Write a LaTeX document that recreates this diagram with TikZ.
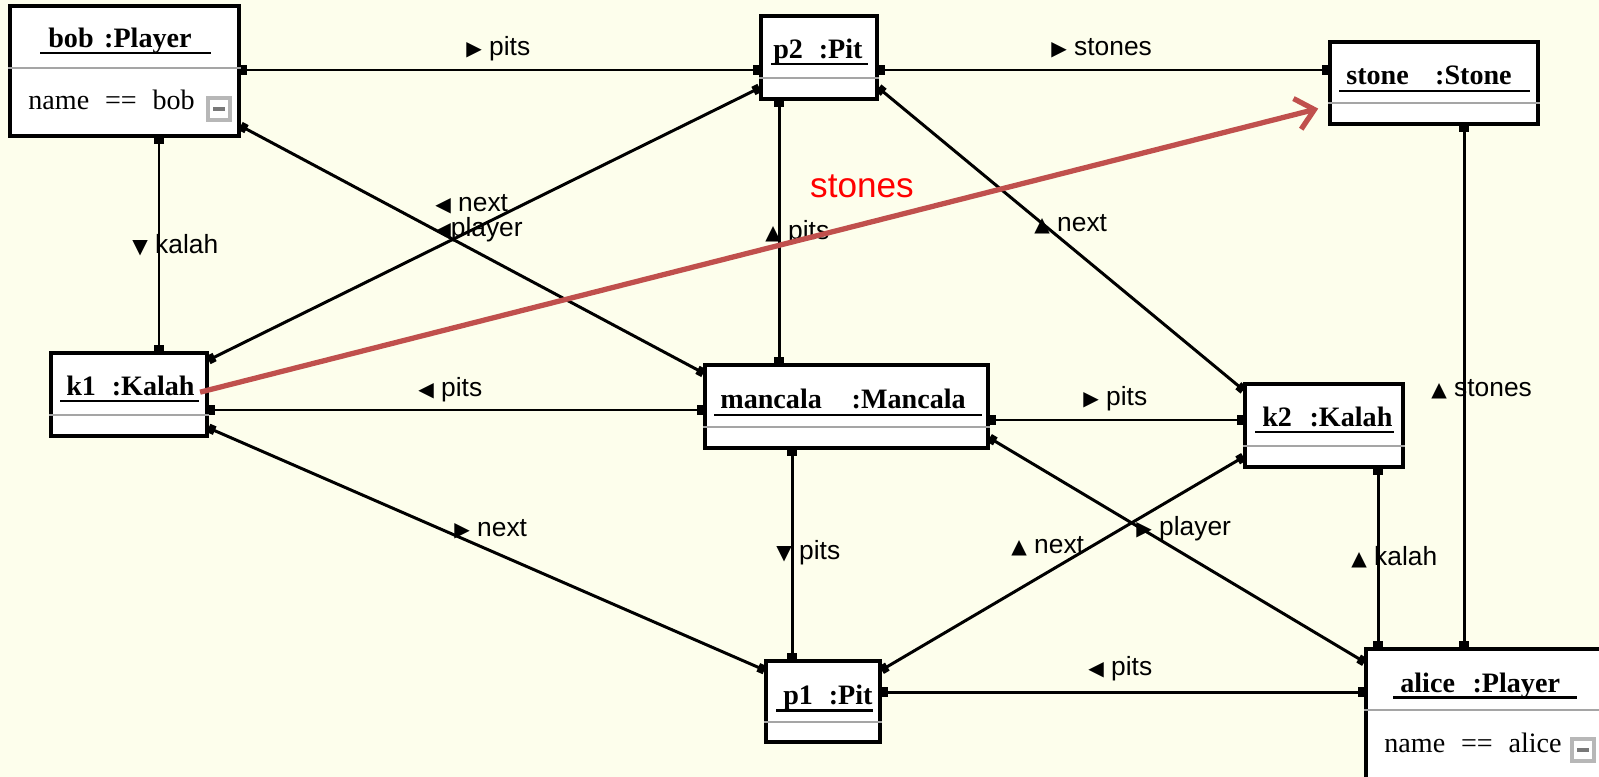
\documentclass[tikz,border=0pt]{standalone}
\usepackage{fontspec}
\setmainfont{Liberation Serif}
\setsansfont{Liberation Sans}
\newfontfamily\trifont{DejaVu Sans}
\usetikzlibrary{arrows.meta}
\usetikzlibrary{fit}
\definecolor{bgivory}{RGB}{253,254,236}
\definecolor{sepgray}{RGB}{165,165,165}
\definecolor{linkred}{RGB}{192,80,77}
\newcommand{\tri}[1]{{\trifont\fontsize{11.5}{12}\selectfont #1}}

\begin{document}
\begin{tikzpicture}[x=0.02cm, y=-0.02cm,
    obj/.style={draw, line width=1.8pt, fill=white, inner sep=0pt},
    sepline/.style={draw=sepgray, line width=1.1pt},
    uline/.style={line width=1.7pt},
    title/.style={anchor=base west, inner sep=0pt, font=\bfseries\fontsize{16}{18}\selectfont},
    attr/.style={anchor=base west, inner sep=0pt, font=\fontsize{16}{18}\selectfont},
    assoc/.style={line width=1.7pt, <->, >={Square[length=3.8pt,width=5.2pt]}},
    role/.style={anchor=west, inner sep=0pt, font=\sffamily\fontsize{15}{17}\selectfont},
    foldbox/.style={draw=sepgray!80, line width=2pt, fill=white},
    foldbar/.style={draw=sepgray!150, line width=2pt},
    redlink/.style={draw=linkred, line width=3pt, -{Straight Barb[length=10pt,width=18pt]}}]

        \fill[bgivory] (0,0) rectangle (1599,777);
        \clip (0,0) rectangle (1599,777);

        % objects
        \node[obj, fit={(10,6) (239,136)}] (bob) {};
        \node[obj, fit={(761,16) (877,99)}] (p2) {};
        \node[obj, fit={(1330,42) (1538,124)}] (stone) {};
        \node[obj, fit={(51,353) (207,436)}] (k1) {};
        \node[obj, fit={(705,365) (988,448)}] (mancala) {};
        \node[obj, fit={(1245,384) (1403,467)}] (k2) {};
        \node[obj, fit={(766,661) (880,742)}] (p1) {};
        \node[obj, fit={(1366,649) (1630,810)}] (alice) {};

        \draw[sepline] (bob.west |- 0,68) -- (bob.east |- 0,68);
        \draw[sepline] (p2.west |- 0,78) -- (p2.east |- 0,78);
        \draw[sepline] (stone.west |- 0,103) -- (stone.east |- 0,103);
        \draw[sepline] (k1.west |- 0,415) -- (k1.east |- 0,415);
        \draw[sepline] (mancala.west |- 0,427) -- (mancala.east |- 0,427);
        \draw[sepline] (k2.west |- 0,446) -- (k2.east |- 0,446);
        \draw[sepline] (p1.west |- 0,722) -- (p1.east |- 0,722);
        \draw[sepline] (alice.west |- 0,710) -- (alice.east |- 0,710);

        \node[title] (bob_t) at (48,48) {bob\hspace{6pt}:Player};
        \node[title] (p2_t) at (773,59) {p2\hspace{9pt}:Pit};
        \node[title] (stone_t) at (1346,85) {stone\hspace{15pt}:Stone};
        \node[title] (k1_t) at (66,395) {k1\hspace{9pt}:Kalah};
        \node[title] (mancala_t) at (720,408) {mancala\hspace{17pt}:Mancala};
        \node[title] (k2_t) at (1262,426) {k2\hspace{10pt}:Kalah};
        \node[title] (p1_t) at (783,704) {p1\hspace{9pt}:Pit};
        \node[title] (alice_t) at (1400,692) {alice\hspace{10pt}:Player};

        \draw[uline] (40,53) -- (211,53);
        \draw[uline] (771,64) -- (868,64);
        \draw[uline] (1339,91) -- (1530,91);
        \draw[uline] (60,401) -- (199,401);
        \draw[uline] (714,415) -- (982,415);
        \draw[uline] (1255,432) -- (1394,432);
        \draw[uline] (776,710) -- (873,710);
        \draw[uline] (1393,697) -- (1577,697);

        \node[attr] (bob_name) at (28,110) {name\hspace{9pt}==\hspace{9pt}bob};
        \node[attr] (alice_name) at (1384,752) {name\hspace{9pt}==\hspace{9pt}alice};

        \draw[foldbox] (208,98) rectangle (230,120);
        \draw[foldbar] (213,109) -- (225,109);
        \draw[foldbox] (1572,739) rectangle (1594,761);
        \draw[foldbar] (1577,750) -- (1589,750);

        % links
        \draw[assoc] (bob.east |- 0,70) -- (p2.west |- 0,70);
        \draw[assoc] (p2.east |- 0,70) -- (stone.west |- 0,70);
        \draw[assoc] (bob.south -| 159,0) -- (k1.north -| 159,0);
        \draw[assoc] (bob.east |- 0,126) -- (mancala.west |- 0,373);
        \draw[assoc] (k1.east |- 0,360) -- (p2.west |- 0,88);
        \draw[assoc] (p2.south -| 779,0) -- (mancala.north -| 779,0);
        \draw[assoc] (p2.east |- 0,88) -- (k2.west |- 0,390);
        \draw[assoc] (stone.south -| 1464,0) -- (alice.north -| 1464,0);
        \draw[assoc] (k1.east |- 0,410) -- (mancala.west |- 0,410);
        \draw[assoc] (mancala.east |- 0,420) -- (k2.west |- 0,420);
        \draw[assoc] (mancala.east |- 0,438) -- (alice.west |- 0,662);
        \draw[assoc] (k1.east |- 0,428) -- (p1.west |- 0,670);
        \draw[assoc] (mancala.south -| 792,0) -- (p1.north -| 792,0);
        \draw[assoc] (p1.east |- 0,670) -- (k2.west |- 0,457);
        \draw[assoc] (k2.south -| 1378,0) -- (alice.north -| 1378,0);
        \draw[assoc] (p1.east |- 0,692) -- (alice.west |- 0,692);

        % role names
        \node[role] (r_bob_p2) at (466,49) {\tri{▶} pits};
        \node[role] (r_p2_stone) at (1051,48) {\tri{▶} stones};
        \node[role] (r_bob_k1) at (132,245) {\tri{▼} kalah};
        \node[role] (r_k1_p2) at (435,204) {\tri{◀} next};
        \node[role] (r_bob_man) at (435,230) {\tri{◀}player};
        \node[role] (r_p2_man) at (765,233) {\tri{▲} pits};
        \node[role] (r_p2_k2) at (1034,224) {\tri{▲} next};
        \node[role] (r_k1_man) at (418,390) {\tri{◀} pits};
        \node[role] (r_man_k2) at (1083,399) {\tri{▶} pits};
        \node[role] (r_stone_al) at (1431,389) {\tri{▲} stones};
        \node[role] (r_k1_p1) at (454,529) {\tri{▶} next};
        \node[role] (r_man_p1) at (776,553) {\tri{▼} pits};
        \node[role] (r_p1_k2) at (1011,546) {\tri{▲} next};
        \node[role] (r_man_al) at (1136,529) {\tri{▶} player};
        \node[role] (r_k2_al) at (1351,557) {\tri{▲} kalah};
        \node[role] (r_p1_al) at (1088,669) {\tri{◀} pits};

        % new link
        \draw[redlink, shorten <=-5pt, shorten >=6pt] (k1.east |- 0,390) -- (stone.west |- 0,106);
        \node[text=red, font=\sffamily\fontsize{20}{24}\selectfont] (new_stones) at (862,186) {stones};
\end{tikzpicture}
\end{document}
